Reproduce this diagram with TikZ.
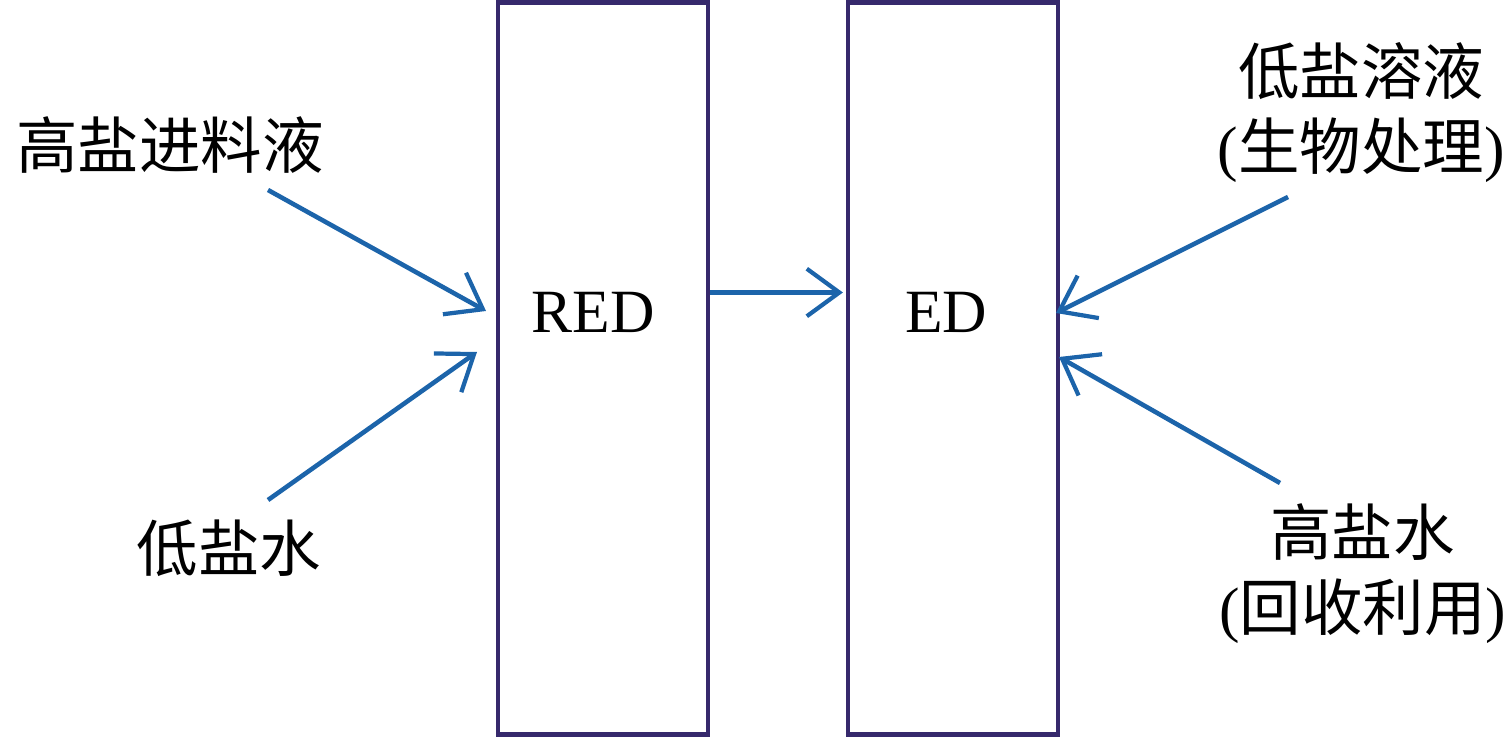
\documentclass[tikz,border=0pt]{standalone}
\usepackage{fontspec}
\setmainfont{Liberation Serif}
\newfontfamily\cjk{Noto Sans CJK SC}
\usetikzlibrary{positioning, arrows.meta, calc}
\definecolor{boxcol}{HTML}{36296C}
\definecolor{flowcol}{HTML}{1C64AA}
\tikzset{
    unit/.style={draw=boxcol, line width=2.8pt, minimum width=4.2cm, minimum height=14.64cm, inner sep=0pt},
    flow/.style={draw=flowcol, line width=2.6pt, -{Straight Barb[length=6.5mm, width=9.5mm, line width=2.4pt]}},
    lbl/.style={font=\fontsize{35}{43}\selectfont, align=center, inner sep=0pt}
}
\begin{document}
\begin{tikzpicture}
            \useasboundingbox (0,0) rectangle (30.24,14.74);
            \node[unit] (red) at (12.06,7.37) {};
            \node[unit] (ed) at (19.06,7.37) {};
            \node[lbl] (redtxt) at (11.86,8.5) {RED};
            \node[lbl] (edtxt) at (18.92,8.5) {ED};
            \node[lbl] (feed) at (3.4,11.84) {\cjk 高盐进料液};
            \node[lbl] (lowin) at (4.58,3.78) {\cjk 低盐水};
            \node[lbl] (lowout) at (27.22,12.49) {{\cjk 低盐溶液}\\({\cjk 生物处理})};
            \node[lbl] (highout) at (27.25,3.27) {{\cjk 高盐水}\\({\cjk 回收利用})};
            \coordinate (feedend) at (5.36,10.94);
            \coordinate (lowinend) at (5.36,4.74);
            \coordinate (lowoutend) at (25.76,10.8);
            \coordinate (highoutend) at (25.6,5.08);
            \draw[flow] (feedend) -- (9.72,8.52);
            \draw[flow] (lowinend) -- (9.54,7.7);
            \draw[flow] ([yshift=1.52cm]red.east) -- ([yshift=1.52cm,xshift=-1.5pt]ed.west);
            \draw[flow] (lowoutend) -- (21.12,8.48);
            \draw[flow] (highoutend) -- (21.18,7.6);
        \end{tikzpicture}
\end{document}
